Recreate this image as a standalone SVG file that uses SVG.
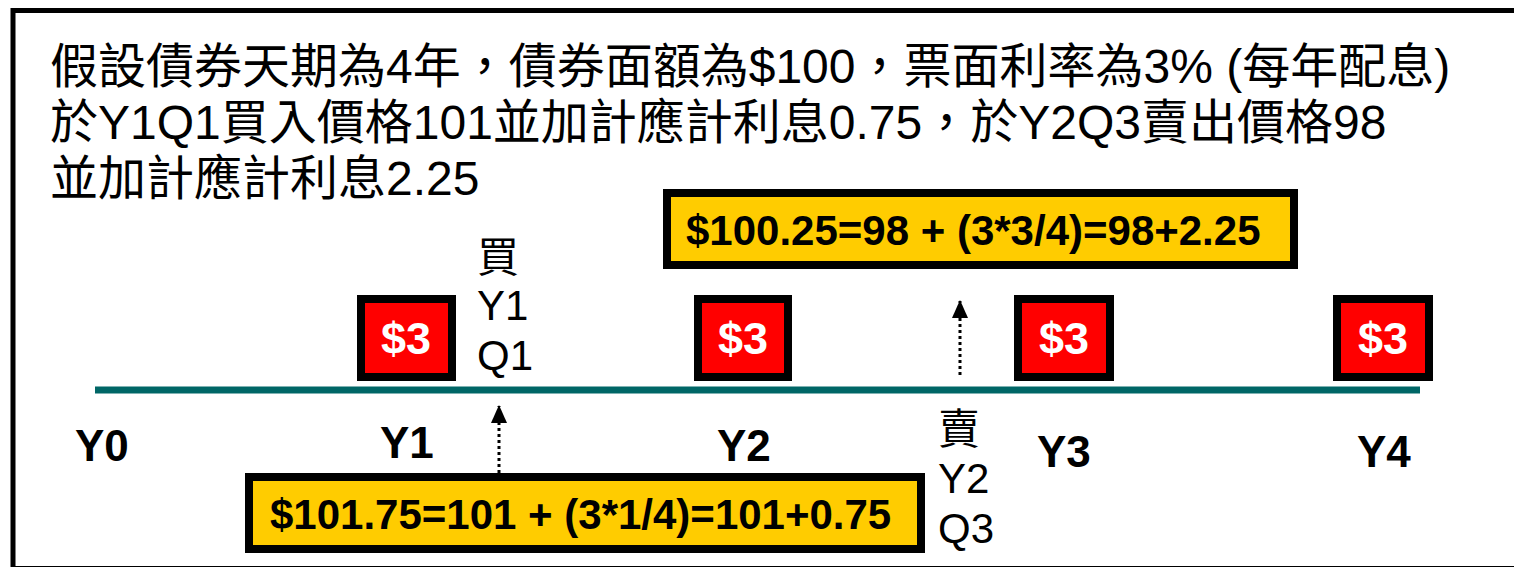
<svg xmlns="http://www.w3.org/2000/svg" width="1514" height="567" viewBox="0 0 1514 567">
<style>
.t{font-family:"Liberation Sans","Noto Sans CJK TC",sans-serif;fill:#000}
.h{font-size:48px}
.lab{font-size:42px}
.yr{font-size:44px;font-weight:bold}
.cb{fill:#ff0000;stroke:#000;stroke-width:8}
.cv{font-family:"Liberation Sans",sans-serif;font-size:45px;font-weight:bold;fill:#fff;text-anchor:middle}
.yb{fill:#ffcc00;stroke:#000;stroke-width:8}
.yv{font-family:"Liberation Sans",sans-serif;font-size:42px;font-weight:bold;fill:#000}
.ar{stroke:#000;stroke-width:3;stroke-dasharray:3 3;fill:none}
</style>
<defs>
<marker id="ah" markerUnits="userSpaceOnUse" markerWidth="18" markerHeight="16" refX="17" refY="8" orient="auto" viewBox="0 0 18 16">
<path d="M0,0 L18,8 L0,16 Z" fill="#000"/>
</marker>
</defs>
<rect x="0" y="0" width="1514" height="567" fill="#fff"/>
<rect x="13" y="10.5" width="1520" height="558" fill="none" stroke="#000" stroke-width="5"/>
<g id="title">
<text class="t h" x="50" y="83">假設債券天期為4年，債券面額為$100，票面利率為3% (每年配息)</text>
<text class="t h" x="50" y="139">於Y1Q1買入價格101並加計應計利息0.75，於Y2Q3賣出價格98</text>
<text class="t h" x="50" y="195">並加計應計利息2.25</text>
</g>
<g id="timeline">
<line x1="95" y1="390" x2="1420" y2="390" stroke="#006666" stroke-width="7"/>
</g>
<g id="coupon1"><rect class="cb" x="361" y="299" width="91" height="78"/><text class="cv" x="406" y="354">$3</text></g>
<g id="coupon2"><rect class="cb" x="698" y="299" width="90" height="78"/><text class="cv" x="743" y="354">$3</text></g>
<g id="coupon3"><rect class="cb" x="1018" y="299" width="92" height="78"/><text class="cv" x="1064" y="354">$3</text></g>
<g id="coupon4"><rect class="cb" x="1337" y="299" width="92" height="78"/><text class="cv" x="1383" y="354">$3</text></g>
<g id="years">
<text class="t yr" x="75" y="461">Y0</text>
<text class="t yr" x="380" y="458">Y1</text>
<text class="t yr" x="717" y="461">Y2</text>
<text class="t yr" x="1037" y="467">Y3</text>
<text class="t yr" x="1357" y="467">Y4</text>
</g>
<g id="buy">
<text class="t lab" x="477" y="272">買</text>
<text class="t lab" x="477" y="320">Y1</text>
<text class="t lab" x="477" y="370">Q1</text>
</g>
<g id="sell">
<text class="t lab" x="938" y="444">賣</text>
<text class="t lab" x="938" y="493">Y2</text>
<text class="t lab" x="938" y="543">Q3</text>
</g>
<g id="buyCalc"><rect class="yb" x="249" y="477" width="672" height="72"/><text class="yv" x="270" y="529">$101.75=101 + (3*1/4)=101+0.75</text></g>
<g id="sellCalc"><rect class="yb" x="667" y="193" width="627" height="72"/><text class="yv" x="686" y="245">$100.25=98 + (3*3/4)=98+2.25</text></g>
<g id="connectors">
<line class="ar" x1="499" y1="473" x2="499" y2="406" marker-end="url(#ah)"/>
<line class="ar" x1="960" y1="375" x2="960" y2="301" marker-end="url(#ah)"/>
</g>
</svg>
